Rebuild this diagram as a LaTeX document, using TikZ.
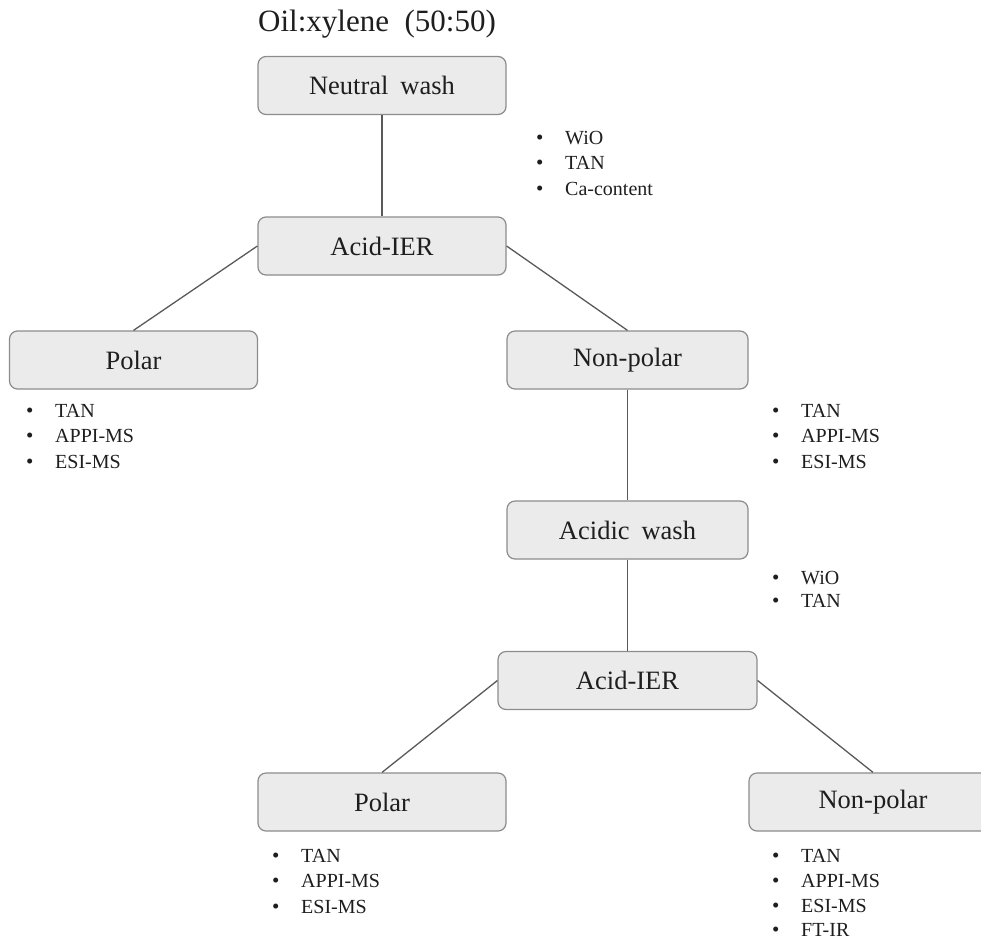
\documentclass[tikz,border=0pt]{standalone}
\usepackage{fontspec}
\setmainfont{Liberation Serif}
\definecolor{boxfill}{HTML}{EBEBEB}
\definecolor{boxline}{HTML}{8C8C8C}
\definecolor{linkc}{HTML}{595959}
\definecolor{txt}{HTML}{1E1E1E}
\newcommand\bitem[3]{\node[item] (#1) at (#2) {\makebox[29pt][l]{\fontsize{21}{21}\selectfont\textbullet}#3};}
\begin{document}
\begin{tikzpicture}[x=1pt,y=-1pt,
  box/.style={draw=boxline, fill=boxfill, rounded corners=8pt, line width=1.2pt,
    minimum width=248pt, minimum height=58pt, inner sep=0pt,
    font=\fontsize{26.5}{30}\selectfont, text=txt},
  link/.style={draw=linkc, line width=1.3pt},
  item/.style={anchor=base west, inner sep=0pt, font=\fontsize{20}{24}\selectfont, text=txt}]
\useasboundingbox (0,0) rectangle (981,937);

\node[anchor=base west, inner sep=0pt, font=\fontsize{31}{35}\selectfont, text=txt] (title) at (258,31) {Oil:xylene\hspace{0.5em}(50:50)};

\node[box] (nw) at (382,85.5) {Neutral\hspace{0.45em}wash};
\node[box] (ier1) at (382,246) {Acid-IER};
\node[box] (p1) at (133.5,360) {Polar};
\node[box, minimum width=241pt] (np1) at (627.5,360) {Non-polar};
\node[box, minimum width=241pt] (aw) at (627.5,530) {Acidic\hspace{0.45em}wash};
\node[box, minimum width=259pt] (ier2) at (627.5,680.5) {Acid-IER};
\node[box] (p2) at (382,802) {Polar};
\node[box] (np2) at (873,802) {Non-polar};

\draw[link] (nw.south) -- (ier1.north);
\draw[link] (ier1.west) -- (p1.north);
\draw[link] (ier1.east) -- (np1.north);
\draw[link] (np1.south) -- (aw.north);
\draw[link] (aw.south) -- (ier2.north);
\draw[link] (ier2.west) -- (p2.north);
\draw[link] (ier2.east) -- (np2.north);

\bitem{a1}{536,144}{WiO}
\bitem{a2}{536,169.5}{TAN}
\bitem{a3}{536,195}{Ca-content}

\bitem{b1}{26,417}{TAN}
\bitem{b2}{26,442.5}{APPI-MS}
\bitem{b3}{26,468}{ESI-MS}

\bitem{c1}{772,417}{TAN}
\bitem{c2}{772,442.5}{APPI-MS}
\bitem{c3}{772,468}{ESI-MS}

\bitem{d1}{772,584}{WiO}
\bitem{d2}{772,607}{TAN}

\bitem{e1}{272,862}{TAN}
\bitem{e2}{272,887.5}{APPI-MS}
\bitem{e3}{272,913}{ESI-MS}

\bitem{f1}{772,862}{TAN}
\bitem{f2}{772,887}{APPI-MS}
\bitem{f3}{772,912}{ESI-MS}
\bitem{f4}{772,936}{FT-IR}
\end{tikzpicture}
\end{document}
